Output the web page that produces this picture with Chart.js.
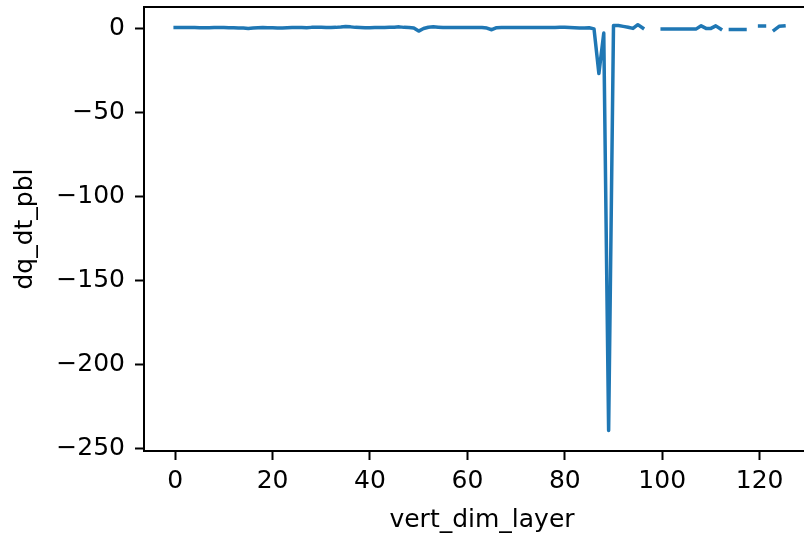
<!DOCTYPE html>
<html>
<head>
<meta charset="utf-8">
<script src="https://cdn.jsdelivr.net/npm/chart.js@4/dist/chart.umd.min.js"></script>
<style>
  html, body { margin: 0; padding: 0; background: #fff; overflow: hidden; }
  #wrap { width: 804px; height: 542px; overflow: hidden; position: relative; }
  #profileChart { position: absolute; left: 0; top: 0; }
</style>
</head>
<body>
<div id="wrap"><canvas id="profileChart" width="830" height="542"></canvas></div>
<script>
// dq_dt_pbl per vertical layer (null = missing value, line breaks there)
const dqDtPbl = [
  0.3, 0.3, 0.3, 0.3, 0.3, 0.2, 0.2, 0.2, 0.3, 0.3,
  0.3, 0.2, 0.2, 0.1, 0.0, -0.2, 0.0, 0.2, 0.3, 0.2,
  0.2, 0.1, 0.1, 0.2, 0.3, 0.3, 0.3, 0.2, 0.4, 0.5,
  0.4, 0.3, 0.3, 0.4, 0.6, 0.9, 0.7, 0.4, 0.3, 0.2,
  0.2, 0.3, 0.3, 0.3, 0.4, 0.5, 0.7, 0.4, 0.3, 0.0,
  -1.8, -0.3, 0.5, 0.7, 0.5, 0.3, 0.3, 0.3, 0.3, 0.3,
  0.3, 0.3, 0.3, 0.3, 0.0, -1.0, 0.2, 0.3, 0.3, 0.3,
  0.3, 0.3, 0.3, 0.3, 0.3, 0.3, 0.3, 0.3, 0.3, 0.4,
  0.4, 0.3, 0.2, 0.0, 0.0, 0.2, -0.5, -27, -3, -239,
  1.5, 1.5, 1.0, 0.5, -0.2, 2.0, 0.0, null, null, null,
  -0.6, -0.6, -0.6, -0.6, -0.6, -0.6, -0.6, -0.5, 1.3, -0.2,
  -0.2, 1.3, -0.6, null, -0.8, -0.8, -0.8, -0.8, null, null,
  1.2, 1.2, null, -1.2, 1.0, 1.3, null
];
const xTickValues = [0, 20, 40, 60, 80, 100, 120];
const yTickValues = [-250, -200, -150, -100, -50, 0];

const points = dqDtPbl.map((v, i) => ({ x: i, y: v }));

const fmt = v => (v < 0 ? "\u2212" + Math.abs(v) : String(v));
const font = { family: "DejaVu Sans", size: 25 };

// top spine only (right spine falls outside the window)
const frame = {
  id: "frame",
  afterDraw(chart) {
    const a = chart.chartArea;
    const c = chart.ctx;
    c.save();
    c.strokeStyle = "#000";
    c.lineWidth = 2;
    c.beginPath();
    c.moveTo(a.left - 1, a.top);
    c.lineTo(chart.width, a.top);
    c.stroke();
    c.restore();
  }
};

new Chart(document.getElementById("profileChart"), {
  type: "line",
  data: {
    datasets: [{
      data: points,
      borderColor: "#1f77b4",
      borderWidth: 3.5,
      pointRadius: 0,
      tension: 0,
      spanGaps: false,
      borderJoinStyle: "round",
      borderCapStyle: "square",
      fill: false
    }]
  },
  options: {
    responsive: false,
    animation: false,
    layout: { padding: { top: 7, right: 10, left: 0, bottom: 0 } },
    plugins: { legend: { display: false }, tooltip: { enabled: false } },
    scales: {
      x: {
        type: "linear",
        min: -6.4,
        max: 132.4,
        afterBuildTicks: s => { s.ticks = xTickValues.map(v => ({ value: v })); },
        afterFit: s => { s.height = 91; s.paddingLeft = 0; s.paddingRight = 0; },
        grid: { drawOnChartArea: false, tickLength: 9, tickWidth: 2, tickColor: "#000" },
        border: { display: true, color: "#000", width: 2 },
        ticks: { color: "#000", font, padding: 6, maxRotation: 0, callback: v => fmt(v) },
        title: { display: true, text: "vert_dim_layer", color: "#000", font, padding: { top: 0, bottom: 7 } }
      },
      y: {
        min: -251.2,
        max: 12.5,
        afterBuildTicks: s => { s.ticks = yTickValues.map(v => ({ value: v })); },
        afterFit: s => { s.width = 144; s.paddingTop = 0; s.paddingBottom = 0; },
        grid: { drawOnChartArea: false, tickLength: 9, tickWidth: 2, tickColor: "#000" },
        border: { display: true, color: "#000", width: 2 },
        ticks: { color: "#000", font, padding: 10, callback: v => fmt(v) },
        title: { display: true, text: "dq_dt_pbl", color: "#000", font, padding: { top: 10, bottom: 0 } }
      }
    }
  },
  plugins: [frame]
});
</script>
</body>
</html>
